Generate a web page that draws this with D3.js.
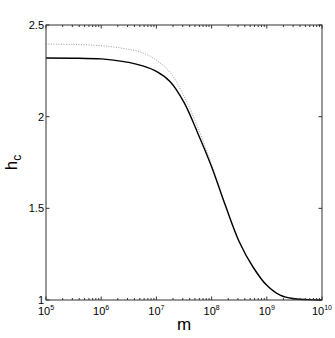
<html>
    <head>
        <script src="https://d3js.org/d3.v7.min.js"></script>
        <style>
            body { margin: 0; background: #fff; }
            text { font-family: "Liberation Sans", Arial, sans-serif; fill: #000; }
        </style>
    </head>
    <body>
        <svg id="svg" width="335" height="338"></svg>
        <script>
            // log10(m) sample points and the two curves
            var logM = [5, 5.5, 6, 6.25, 6.5, 6.75, 7, 7.25, 7.5, 7.75, 8, 8.25, 8.5, 8.75, 9, 9.25, 9.5, 9.75, 10];
            var hcSolid = [2.32, 2.319, 2.315, 2.307, 2.296, 2.277, 2.247, 2.191, 2.078, 1.91, 1.727, 1.515, 1.318, 1.18, 1.08, 1.025, 1.007, 1.002, 1.0];
            var hcDotted = [2.396, 2.394, 2.387, 2.379, 2.367, 2.349, 2.308, 2.24, 2.112, 1.942, 1.737, 1.52, 1.32, 1.181, 1.08, 1.025, 1.007, 1.002, 1.0];
            var yTicks = [1, 1.5, 2, 2.5];
            var xExps = [5, 6, 7, 8, 9, 10];

            var svg = d3.select("svg");
            var plotLeft = 46, plotRight = 322, plotTop = 25, plotBottom = 300;

            var x = d3.scaleLog().domain([1e5, 1e10]).range([plotLeft, plotRight]);
            var y = d3.scaleLinear().domain([1, 2.5]).range([plotBottom, plotTop]);

            var line = d3.line()
                .x(function(d){ return x(Math.pow(10, d[0])); })
                .y(function(d){ return y(d[1]); })
                .curve(d3.curveCatmullRom.alpha(0.5));

            var plot = svg.append("g");

            plot.append("path")
                .attr("d", line(logM.map(function(v, i){ return [v, hcDotted[i]]; })))
                .attr("fill", "none")
                .attr("stroke", "#999")
                .attr("stroke-width", 1)
                .attr("stroke-dasharray", "1,1.5");

            plot.append("path")
                .attr("d", line(logM.map(function(v, i){ return [v, hcSolid[i]]; })))
                .attr("fill", "none")
                .attr("stroke", "#000")
                .attr("stroke-width", 1.4);

            // box
            svg.append("rect")
                .attr("x", plotLeft).attr("y", plotTop)
                .attr("width", plotRight - plotLeft).attr("height", plotBottom - plotTop)
                .attr("fill", "none").attr("stroke", "#333").attr("stroke-width", 1);

            // x ticks, inward on bottom and top
            var minor = [];
            for (var e = 5; e < 10; e++) {
                for (var k = 2; k < 10; k++) minor.push(k * Math.pow(10, e));
            }
            var ticks = svg.append("g").attr("stroke", "#333").attr("stroke-width", 1);
            minor.forEach(function(v){
                ticks.append("line").attr("x1", x(v)).attr("x2", x(v)).attr("y1", plotBottom).attr("y2", plotBottom - 2);
                ticks.append("line").attr("x1", x(v)).attr("x2", x(v)).attr("y1", plotTop).attr("y2", plotTop + 2);
            });
            xExps.forEach(function(e){
                var v = Math.pow(10, e);
                ticks.append("line").attr("x1", x(v)).attr("x2", x(v)).attr("y1", plotBottom).attr("y2", plotBottom - 3.5);
                ticks.append("line").attr("x1", x(v)).attr("x2", x(v)).attr("y1", plotTop).attr("y2", plotTop + 3.5);
                var t = svg.append("text")
                    .attr("x", x(v)).attr("y", 315)
                    .attr("text-anchor", "middle")
                    .attr("font-size", 11);
                t.append("tspan").text("10");
                t.append("tspan").attr("dy", -5).attr("font-size", 7).text(e);
            });
            yTicks.forEach(function(v){
                ticks.append("line").attr("x1", plotLeft).attr("x2", plotLeft + 3.5).attr("y1", y(v)).attr("y2", y(v));
                ticks.append("line").attr("x1", plotRight).attr("x2", plotRight - 3.5).attr("y1", y(v)).attr("y2", y(v));
                svg.append("text")
                    .attr("x", plotLeft - 2).attr("y", y(v) + 4)
                    .attr("text-anchor", "end")
                    .attr("font-size", 11)
                    .text(v);
            });

            svg.append("text")
                .attr("x", (plotLeft + plotRight) / 2).attr("y", 330)
                .attr("text-anchor", "middle")
                .attr("font-size", 17)
                .text("m");

            var yl = svg.append("text")
                .attr("transform", "translate(17," + ((plotTop + plotBottom) / 2) + ") rotate(-90)")
                .attr("text-anchor", "middle")
                .attr("font-size", 17);
            yl.append("tspan").text("h");
            yl.append("tspan").attr("dy", 4).attr("font-size", 12).text("c");
        </script>
    </body>
</html>
